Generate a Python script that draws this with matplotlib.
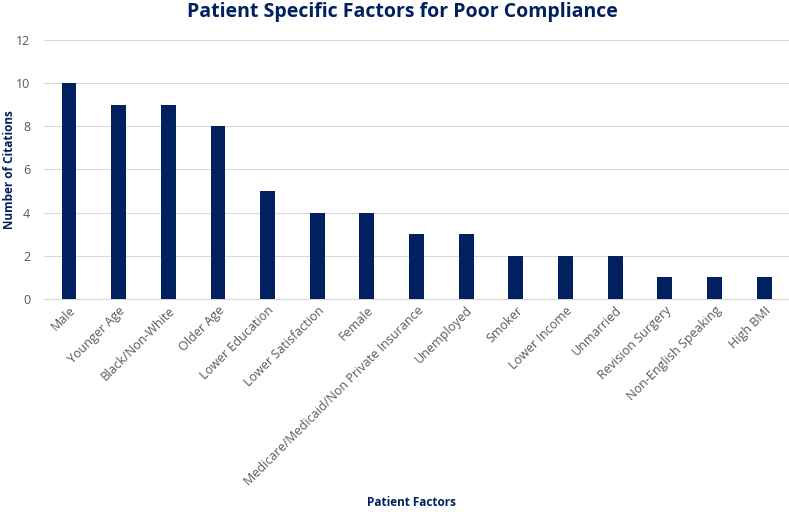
import matplotlib
matplotlib.use("Agg")
import matplotlib.pyplot as plt

plt.rcParams['font.family'] = ['Open Sans', 'DejaVu Sans']

factors = ["Male", "Younger Age", "Black/Non-White", "Older Age", "Lower Education",
           "Lower Satisfaction", "Female", "Medicare/Medicaid/Non Private Insurance",
           "Unemployed", "Smoker", "Lower Income", "Unmarried", "Revision Surgery",
           "Non-English Speaking", "High BMI"]
citations = [10, 9, 9, 8, 5, 4, 4, 3, 3, 2, 2, 2, 1, 1, 1]

navy = "#002060"
grey = "#595959"

fig = plt.figure(figsize=(7.89, 5.12), dpi=100)
ax = fig.add_axes([0.056, 0.416, 0.944, 0.506])

x = range(len(factors))
ax.bar(x, citations, width=0.3, color=navy, zorder=3)
ax.set_xlim(-0.5, len(factors) - 0.5)
ax.set_ylim(0, 12)
ax.set_yticks(range(0, 13, 2))
ax.yaxis.grid(True, color="#d9d9d9", linewidth=0.8, zorder=0)
for s in ["top", "right", "left"]:
    ax.spines[s].set_visible(False)
ax.spines["bottom"].set_color("#d9d9d9")
ax.tick_params(axis="both", length=0, colors=grey, labelsize=9)
ax.tick_params(axis="y", pad=10)
ax.set_xticks(list(x))
ax.set_xticklabels(factors, rotation=45, ha="right", rotation_mode="anchor", color=grey)

fig.text(0.012, 0.669, "Number of Citations", fontsize=8.5, fontweight="bold", color=navy,
         ha="center", va="center", rotation=90)
fig.text(0.522, 0.018, "Patient Factors", fontsize=8.5, fontweight="bold", color=navy,
         ha="center", va="center")
fig.text(0.51, 0.976, "Patient Specific Factors for Poor Compliance", fontsize=14,
         fontweight="bold", color=navy, ha="center", va="center")

fig.savefig("out.png", dpi=100)
